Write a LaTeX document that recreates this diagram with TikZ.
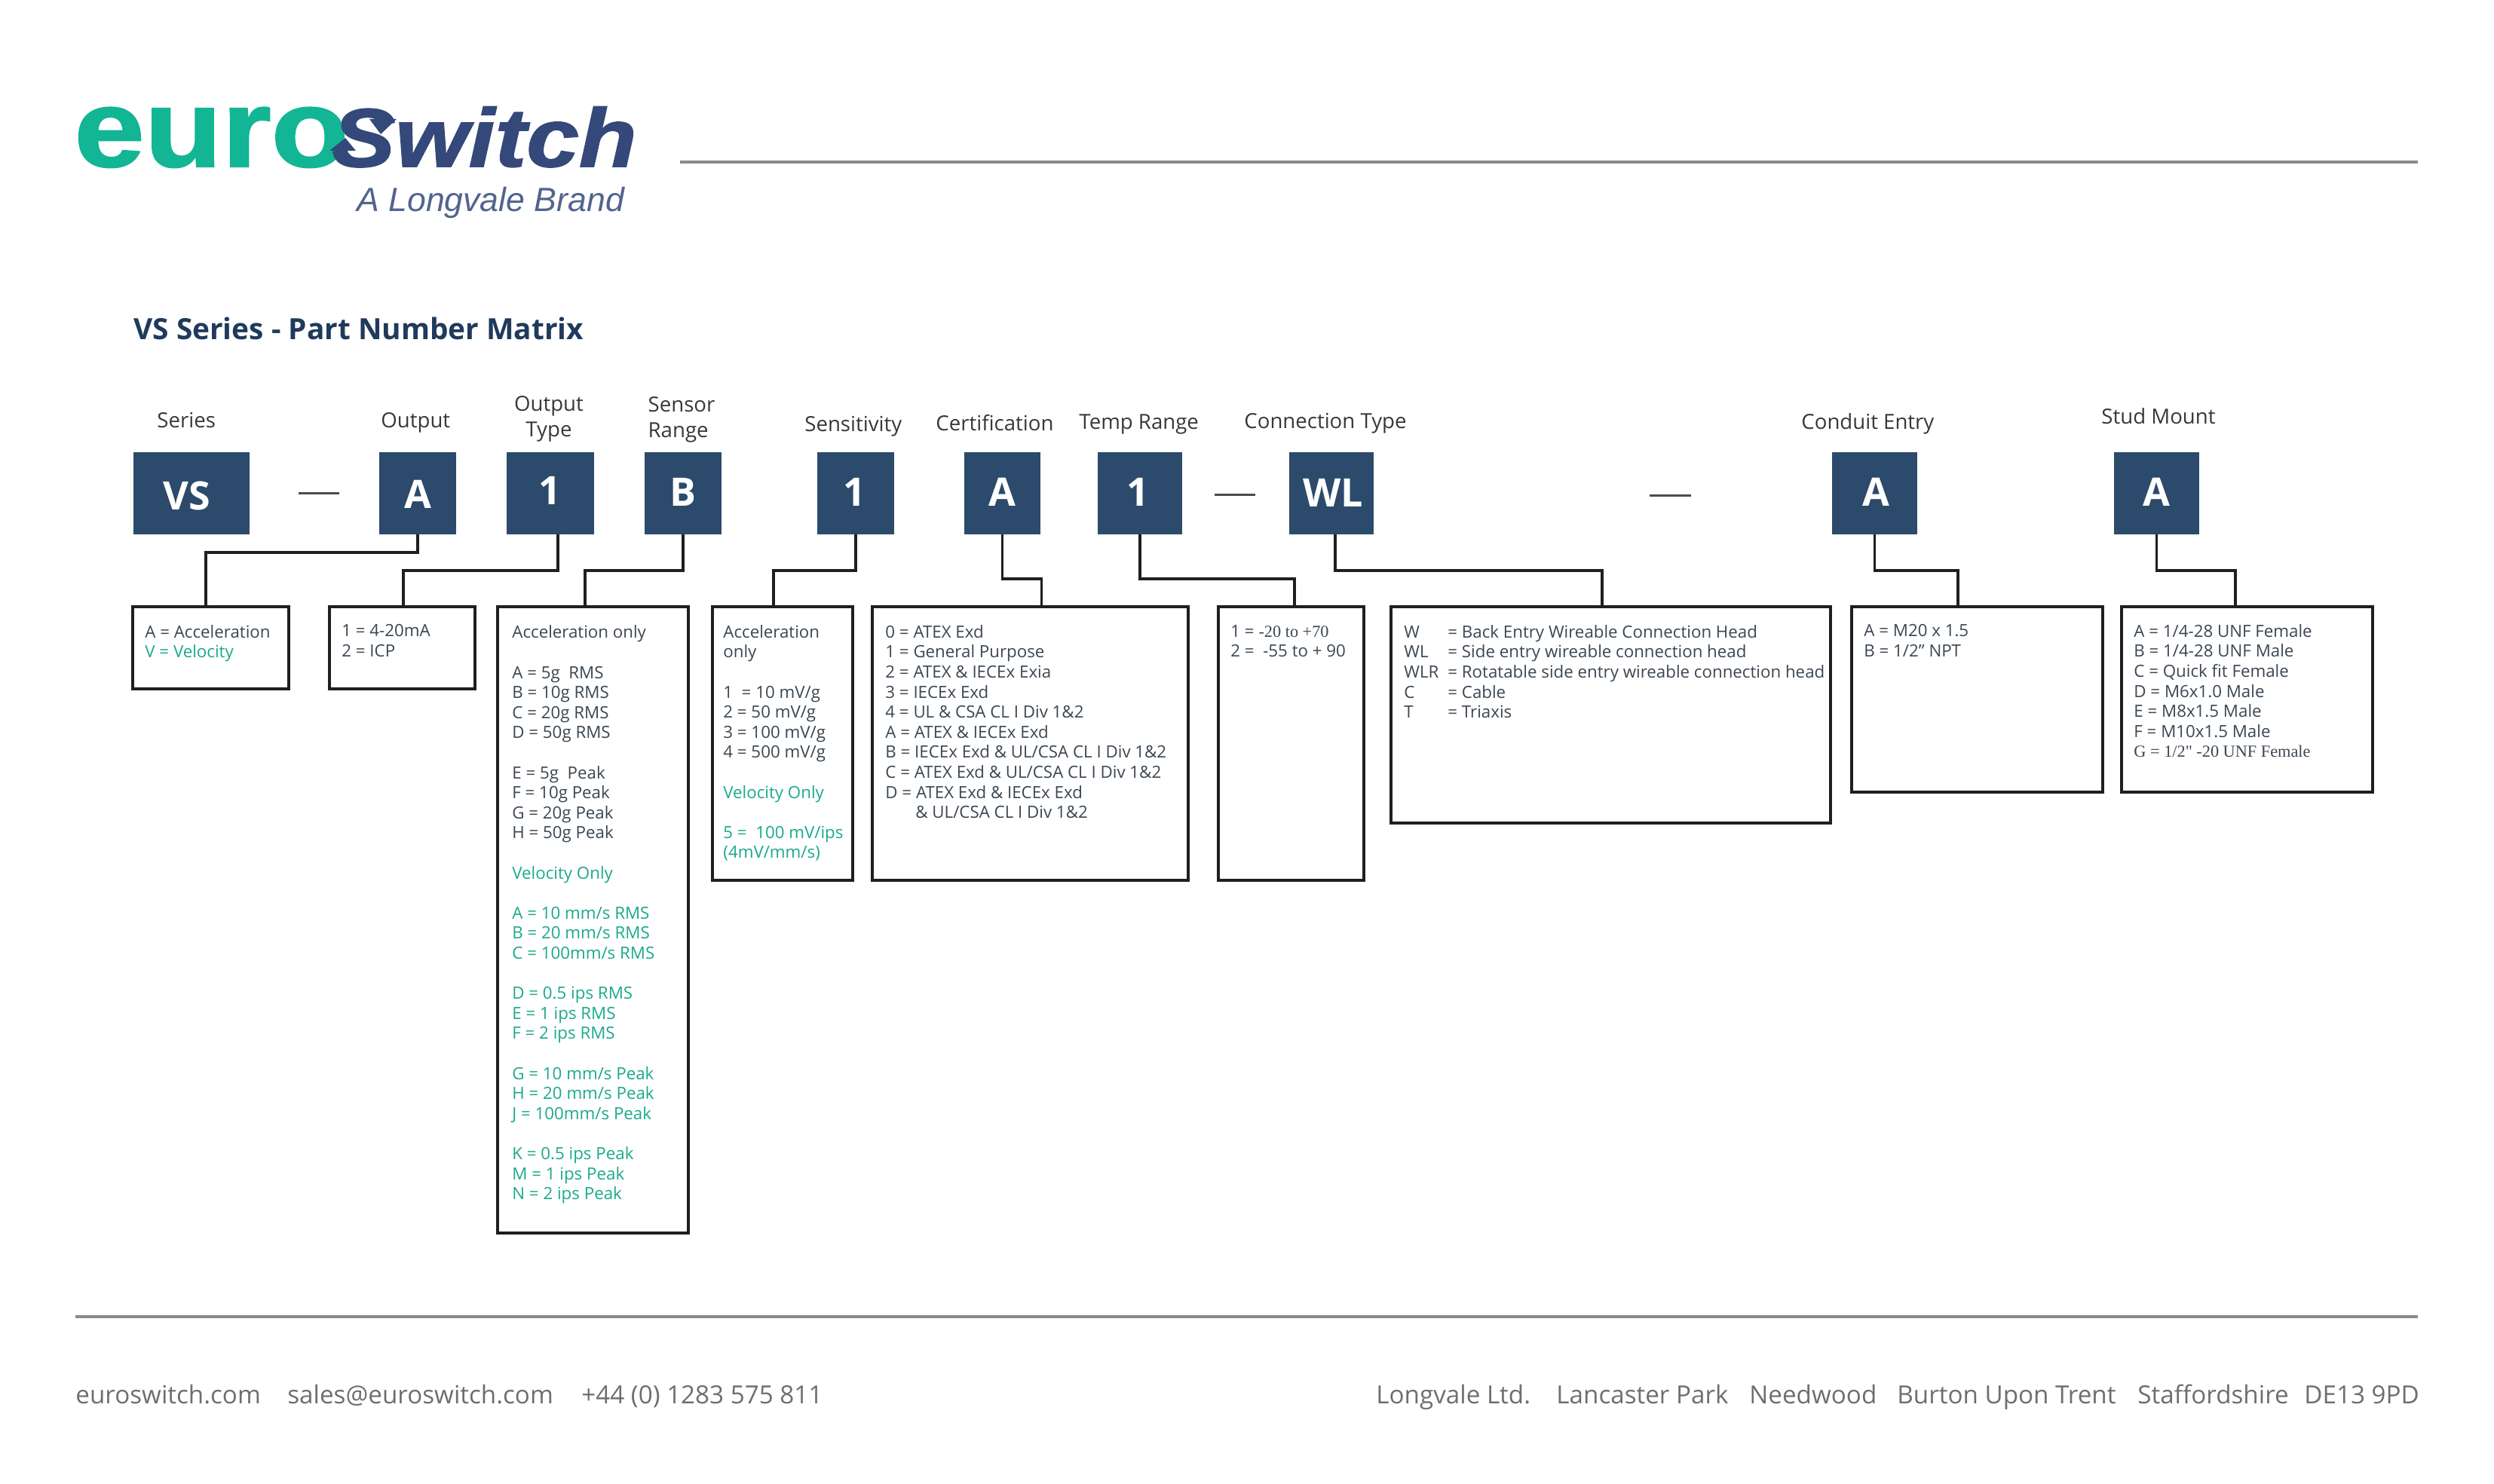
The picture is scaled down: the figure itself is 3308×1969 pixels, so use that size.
\documentclass[tikz,border=0pt]{standalone}
\usepackage{fontspec}
\setmainfont{Open Sans}
\newfontfamily\logofont[FakeBold=1.4]{Liberation Sans}
\newfontfamily\brandfont{Liberation Sans}
\newfontfamily\serifpart{Liberation Serif}
\usetikzlibrary{calc}
\definecolor{tileblue}{HTML}{2C4A6B}
\definecolor{logogreen}{HTML}{12B594}
\definecolor{logonavy}{HTML}{34497A}
\definecolor{listgreen}{HTML}{1AA98C}
\definecolor{listdark}{HTML}{3A4652}
\definecolor{framedark}{HTML}{1F1F1F}
\definecolor{rulegrey}{HTML}{8A8A8A}
\definecolor{footgrey}{HTML}{6E6E6E}
\definecolor{titleblue}{HTML}{1F3A5C}

\begin{document}
\begin{tikzpicture}[x=0.5pt, y=-0.5pt,
      tile/.style={anchor=north west, fill=tileblue, inner sep=0pt, outer sep=0pt, minimum height=54.5pt},
      tiletext/.style={text=white, inner sep=0pt, font=\fontsize{26}{30}\selectfont\bfseries},
      headlabel/.style={anchor=base west, inner sep=0pt, text=black!78, font=\fontsize{13.8}{16.8}\selectfont},
      listbox/.style={anchor=north west, draw=framedark, line width=2.1pt, inner sep=0pt, outer sep=0pt},
      listtext/.style={anchor=north west, inner sep=0pt, align=left, text=listdark,
        font=\fontsize{11.15}{13.3}\selectfont, execute at begin node=\strut},
      wire/.style={draw=framedark, line width=1.75pt},
      sepline/.style={draw=black!70, line width=1.5pt},
      grule/.style={draw=rulegrey, line width=1.6pt},
      foottext/.style={anchor=base west, inner sep=0pt, text=footgrey, font=\fontsize{16.6}{20}\selectfont}]
    \useasboundingbox (0,0) rectangle (3308,1969);

    % Logo
    \node[anchor=base west, inner sep=0pt, xscale=1.15, text=logogreen, font=\fontsize{73}{90}\logofont\bfseries] (euro) at (98,221) {euro};
    \node[anchor=base west, inner sep=0pt, xscale=1.14, text=logonavy, font=\fontsize{55}{70}\logofont\bfseries\itshape] (switch) at (440,221) {Switch};
    \fill[logonavy] (490,158) -- (526,158) -- (505,178) -- cycle;
    \fill[logonavy] (437,200) -- (458,183) -- (472,200) -- cycle;
    \node[anchor=base west, inner sep=0pt, text=logonavy!85, font=\fontsize{22.3}{28}\brandfont\itshape] (brand) at (473,281) {A Longvale Brand};

    % Rules
    \draw[grule] (902,215) -- (3207,215);
    \draw[grule] (100,1747) -- (3207,1747);

    % Title
    \node[anchor=base west, inner sep=0pt, text=titleblue, font=\fontsize{19.4}{24}\selectfont\bfseries] (title) at (177,450) {VS Series - Part Number Matrix};

    % Column headings
    \node[headlabel] (hseries) at (208,567) {Series};
    \node[headlabel] (houtput) at (505,567) {Output};
    \node[headlabel, anchor=center, align=center] (htype) at (728,556) {Output\\Type};
    \node[headlabel, anchor=center, align=left] (hrange) at (904,557) {Sensor\\Range};
    \node[headlabel] (hsens) at (1067,572) {Sensitivity};
    \node[headlabel] (hcert) at (1241,571) {Certification};
    \node[headlabel] (htemp) at (1431,569) {Temp Range};
    \node[headlabel] (hconn) at (1650,568) {Connection Type};
    \node[headlabel] (hcond) at (2389,569) {Conduit Entry};
    \node[headlabel] (hstud) at (2787,562) {Stud Mount};

    % Part number tiles
    \node[tile, minimum width=77pt] (tvs) at (177,600) {};
    \node[tile, minimum width=51pt] (tout) at (503,600) {};
    \node[tile, minimum width=58pt] (ttype) at (672,600) {};
    \node[tile, minimum width=51pt] (trange) at (855,600) {};
    \node[tile, minimum width=51pt] (tsens) at (1084,600) {};
    \node[tile, minimum width=50.5pt] (tcert) at (1279,600) {};
    \node[tile, minimum width=56pt] (ttemp) at (1456,600) {};
    \node[tile, minimum width=56pt] (tconn) at (1710,600) {};
    \node[tile, minimum width=56.5pt] (tcond) at (2430,600) {};
    \node[tile, minimum width=56.5pt] (tstud) at (2804,600) {};

    \node[tiletext] (lvs) at (248,658) {VS};
    \node[tiletext] (lout) at (554,656) {A};
    \node[tiletext] (ltype) at (729,651) {1};
    \node[tiletext] (lrange) at (906,653) {B};
    \node[tiletext] (lsens) at (1133,653) {1};
    \node[tiletext] (lcert) at (1329,653) {A};
    \node[tiletext] (ltemp) at (1509,653) {1};
    \node[tiletext] (lconn) at (1768,654) {WL};
    \node[tiletext] (lcond) at (2488,653) {A};
    \node[tiletext] (lstud) at (2860,653) {A};

    % Separators
    \draw[sepline] (396,654) -- (450,654);
    \draw[sepline] (1611,656) -- (1665,656);
    \draw[sepline] (2188,657) -- (2243,657);

    % Option boxes
    \node[listbox, minimum width=103.5pt, minimum height=54.5pt] (bseries) at (176,805) {};
    \node[listbox, minimum width=96.5pt, minimum height=54.5pt] (bout) at (437,805) {};
    \node[listbox, minimum width=126.5pt, minimum height=415.5pt] (brange) at (660,805) {};
    \node[listbox, minimum width=93pt, minimum height=181.5pt] (bsens) at (945,805) {};
    \node[listbox, minimum width=209.5pt, minimum height=181.5pt] (bcert) at (1157,805) {};
    \node[listbox, minimum width=96.5pt, minimum height=181.5pt] (btemp) at (1616,805) {};
    \node[listbox, minimum width=291.5pt, minimum height=143.5pt] (bconn) at (1845,805) {};
    \node[listbox, minimum width=166.5pt, minimum height=123pt] (bcond) at (2456,805) {};
    \node[listbox, minimum width=166.5pt, minimum height=123pt] (bstud) at (2814,805) {};

    % Connectors
    \draw[wire] (tout.south) -- ++(0,24) -| ($(bseries.north west)+(97,0)$);
    \draw[wire] ($(ttype.south west)+(68,0)$) -- ++(0,48) -| ($(bout.north west)+(98,0)$);
    \draw[wire] (trange.south) -- ++(0,48) -| ($(brange.north west)+(116,0)$);
    \draw[wire] (tsens.south) -- ++(0,48) -| ($(bsens.north west)+(81,0)$);
    \draw[wire] (tcert.south) -- ++(0,59) -| ($(bcert.north west)+(224.5,0)$);
    \draw[wire] (ttemp.south) -- ++(0,59) -| ($(btemp.north west)+(101,0)$);
    \draw[wire] ($(tconn.south west)+(61,0)$) -- ++(0,48) -| ($(bconn.north west)+(280,0)$);
    \draw[wire] (tcond.south) -- ++(0,48) -| ($(bcond.north west)+(141,0)$);
    \draw[wire] (tstud.south) -- ++(0,48) -| ($(bstud.north west)+(151,0)$);

    % Option texts
    \node[listtext] (xseries) at (192,829) {A = Acceleration\\\textcolor{listgreen}{V = Velocity}};
    \node[listtext] (xout) at (453,828) {1 = 4-20mA\\2 = ICP};
    \node[listtext] (xrange) at (679,829.5) {Acceleration only\\[13.3pt]
      A = 5g~ RMS\\B = 10g RMS\\C = 20g RMS\\D = 50g RMS\\[13.3pt]
      E = 5g~ Peak\\F = 10g Peak\\G = 20g Peak\\H = 50g Peak\\[13.3pt]
      \textcolor{listgreen}{Velocity Only}\\[13.3pt]
      \textcolor{listgreen}{A = 10 mm/s RMS}\\\textcolor{listgreen}{B = 20 mm/s RMS}\\\textcolor{listgreen}{C = 100mm/s RMS}\\[13.3pt]
      \textcolor{listgreen}{D = 0.5 ips RMS}\\\textcolor{listgreen}{E = 1 ips RMS}\\\textcolor{listgreen}{F = 2 ips RMS}\\[13.3pt]
      \textcolor{listgreen}{G = 10 mm/s Peak}\\\textcolor{listgreen}{H = 20 mm/s Peak}\\\textcolor{listgreen}{J = 100mm/s Peak}\\[13.3pt]
      \textcolor{listgreen}{K = 0.5 ips Peak}\\\textcolor{listgreen}{M = 1 ips Peak}\\\textcolor{listgreen}{N = 2 ips Peak}};
    \node[listtext] (xsens) at (959,829) {Acceleration\\only\\[13.3pt]
      1~ = 10 mV/g\\2 = 50 mV/g\\3 = 100 mV/g\\4 = 500 mV/g\\[13.3pt]
      \textcolor{listgreen}{Velocity Only}\\[13.3pt]
      \textcolor{listgreen}{5 =~ 100 mV/ips}\\\textcolor{listgreen}{(4mV/mm/s)}};
    \node[listtext] (xcert) at (1174,829) {0 = ATEX Exd\\1 = General Purpose\\2 = ATEX \& IECEx Exia\\3 = IECEx Exd\\4 = UL \& CSA CL I Div 1\&2\\A = ATEX \& IECEx Exd\\B = IECEx Exd \& UL/CSA CL I Div 1\&2\\C = ATEX Exd \& UL/CSA CL I Div 1\&2\\D = ATEX Exd \& IECEx Exd\\\hspace*{20pt}\& UL/CSA CL I Div 1\&2};
    \node[listtext] (xtemp) at (1632,829) {1 = {\serifpart -20 to +70}\\2 =~ -55 to + 90};
    \node[listtext] (xconn) at (1862,829) {\makebox[29pt][l]{W}= Back Entry Wireable Connection Head\\
      \makebox[29pt][l]{WL}= Side entry wireable connection head\\
      \makebox[29pt][l]{WLR}= Rotatable side entry wireable connection head\\
      \makebox[29pt][l]{C}= Cable\\
      \makebox[29pt][l]{T}= Triaxis};
    \node[listtext] (xcond) at (2472,828) {A = M20 x 1.5\\B = 1/2" NPT};
    \node[listtext] (xstud) at (2830,828) {A = 1/4-28 UNF Female\\B = 1/4-28 UNF Male\\C = Quick fit Female\\D = M6x1.0 Male\\E = M8x1.5 Male\\F = M10x1.5 Male\\{\serifpart G = 1/2" -20 UNF Female}};

    % Footer
    \node[foottext] (fweb) at (100,1862) {euroswitch.com};
    \node[foottext] (fmail) at (381,1862) {sales@euroswitch.com};
    \node[foottext] (fphone) at (771,1862) {+44 (0) 1283 575 811};
    \node[foottext] (fcomp) at (1825,1862) {Longvale Ltd.};
    \node[foottext] (fpark) at (2064,1862) {Lancaster Park};
    \node[foottext] (fneed) at (2320,1862) {Needwood};
    \node[foottext] (fburt) at (2516,1862) {Burton Upon Trent};
    \node[foottext] (fstaf) at (2835,1862) {Staffordshire};
    \node[foottext] (fcode) at (3056,1862) {DE13 9PD};

\end{tikzpicture}
\end{document}
